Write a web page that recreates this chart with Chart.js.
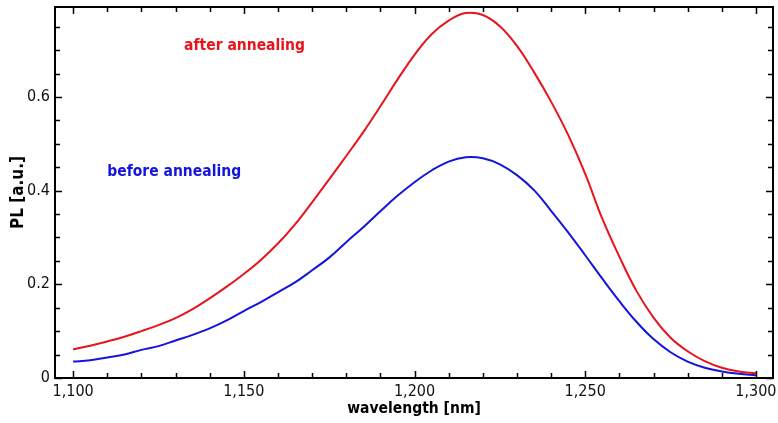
<!DOCTYPE html>
<html>
<head>
<meta charset="utf-8">
<script src="https://cdn.jsdelivr.net/npm/chart.js@4.4.1/dist/chart.umd.min.js"></script>
<style>
  html, body { margin: 0; padding: 0; background: #fff; }
  #wrap { width: 778px; height: 423px; position: relative; }
</style>
</head>
<body>
<div id="wrap"><canvas id="plChart"></canvas></div>
<script>
// wavelength [nm]
const wavelengths = [1100, 1105, 1110, 1115, 1120, 1125, 1130, 1135, 1140, 1145,
  1150, 1155, 1160, 1165, 1170, 1175, 1180, 1185, 1190, 1195,
  1200, 1205, 1210, 1215, 1220, 1225, 1230, 1235, 1240, 1245,
  1250, 1255, 1260, 1265, 1270, 1275, 1280, 1285, 1290, 1295, 1300];

const afterAnnealing = [0.061, 0.069, 0.078, 0.088, 0.100, 0.113, 0.128, 0.147, 0.170, 0.195,
  0.222, 0.252, 0.287, 0.328, 0.375, 0.424, 0.474, 0.525, 0.580, 0.637,
  0.690, 0.734, 0.763, 0.779, 0.775, 0.751, 0.709, 0.653, 0.590, 0.519,
  0.436, 0.340, 0.259, 0.186, 0.129, 0.086, 0.057, 0.036, 0.022, 0.014, 0.010];

const beforeAnnealing = [0.035, 0.038, 0.044, 0.050, 0.060, 0.068, 0.080, 0.092, 0.106, 0.123,
  0.143, 0.162, 0.183, 0.204, 0.230, 0.257, 0.290, 0.322, 0.356, 0.389,
  0.418, 0.443, 0.462, 0.471, 0.469, 0.456, 0.433, 0.401, 0.357, 0.311,
  0.262, 0.212, 0.164, 0.120, 0.083, 0.055, 0.035, 0.022, 0.014, 0.009, 0.006];

const xMajorTicks = [1100, 1150, 1200, 1250, 1300];
const xMinorTicks = [1110, 1120, 1130, 1140, 1160, 1170, 1180, 1190, 1210, 1220,
  1230, 1240, 1260, 1270, 1280, 1290];
const yMajorTicks = [0, 0.2, 0.4, 0.6];
const yMinorTicks = [0.05, 0.1, 0.15, 0.25, 0.3, 0.35, 0.45, 0.5, 0.55, 0.65, 0.7, 0.75];

const labelFont = '"DejaVu Sans Condensed", "DejaVu Sans", sans-serif';

const toPoints = (ys) => wavelengths.map((x, i) => ({ x: x, y: ys[i] }));

// frame and inward tick marks on all four sides
const framePlugin = {
  id: 'frame',
  afterDraw(chart) {
    const ctx = chart.ctx;
    const a = chart.chartArea;
    const xs = chart.scales.x;
    const ys = chart.scales.y;
    ctx.save();
    ctx.strokeStyle = '#000';
    ctx.lineWidth = 2;
    ctx.strokeRect(a.left, a.top, a.right - a.left, a.bottom - a.top);
    ctx.lineWidth = 1.5;
    const xTick = (v, len) => {
      const px = Math.round(xs.getPixelForValue(v)) + 0.5;
      ctx.beginPath();
      ctx.moveTo(px, a.bottom); ctx.lineTo(px, a.bottom - len);
      ctx.moveTo(px, a.top); ctx.lineTo(px, a.top + len);
      ctx.stroke();
    };
    const yTick = (v, len) => {
      const py = Math.round(ys.getPixelForValue(v)) + 0.5;
      ctx.beginPath();
      ctx.moveTo(a.left, py); ctx.lineTo(a.left + len, py);
      ctx.moveTo(a.right, py); ctx.lineTo(a.right - len, py);
      ctx.stroke();
    };
    xMajorTicks.forEach(v => xTick(v, 7));
    xMinorTicks.forEach(v => xTick(v, 5));
    yMajorTicks.forEach(v => yTick(v, 7));
    yMinorTicks.forEach(v => yTick(v, 5));
    ctx.restore();
  }
};

// series names written inside the plot
const seriesLabels = [
  { text: 'after annealing', x: 1132.5, y: 0.708, color: '#e8141c' },
  { text: 'before annealing', x: 1110, y: 0.440, color: '#1414dc' }
];

const labelPlugin = {
  id: 'seriesLabels',
  afterDatasetsDraw(chart) {
    const ctx = chart.ctx;
    ctx.save();
    ctx.font = 'bold 15.5px ' + labelFont;
    ctx.textAlign = 'left';
    ctx.textBaseline = 'middle';
    seriesLabels.forEach(l => {
      ctx.fillStyle = l.color;
      ctx.fillText(l.text, chart.scales.x.getPixelForValue(l.x), chart.scales.y.getPixelForValue(l.y));
    });
    ctx.restore();
  }
};

const ctx = document.getElementById('plChart').getContext('2d');
const chart = new Chart(ctx, {
  type: 'line',
  data: {
    datasets: [
      {
        label: 'after annealing',
        data: toPoints(afterAnnealing),
        borderColor: '#e8141c',
        borderWidth: 2,
        pointRadius: 0,
        tension: 0.4,
        fill: false
      },
      {
        label: 'before annealing',
        data: toPoints(beforeAnnealing),
        borderColor: '#1414dc',
        borderWidth: 2,
        pointRadius: 0,
        tension: 0.4,
        fill: false
      }
    ]
  },
  options: {
    responsive: true,
    maintainAspectRatio: false,
    animation: false,
    layout: { padding: { top: 7, right: 5, left: 0, bottom: 5 } },
    plugins: {
      legend: { display: false },
      tooltip: { enabled: false }
    },
    scales: {
      x: {
        type: 'linear',
        min: 1094.7,
        max: 1305,
        grid: { display: false, drawTicks: false },
        border: { display: false },
        afterBuildTicks: (scale) => { scale.ticks = xMajorTicks.map(v => ({ value: v })); },
        afterFit: (scale) => { scale.height = 40; scale.paddingLeft = 0; scale.paddingRight = 0; },
        ticks: {
          color: '#111',
          padding: 4,
          maxRotation: 0,
          font: { family: labelFont, size: 16 },
          callback: (v) => v.toLocaleString('en-US')
        },
        title: {
          display: true,
          text: 'wavelength [nm]',
          color: '#000',
          padding: { top: 0, bottom: 0 },
          font: { family: labelFont, size: 15.5, weight: 'bold' }
        }
      },
      y: {
        min: 0,
        max: 0.792,
        grid: { display: false, drawTicks: false },
        border: { display: false },
        afterBuildTicks: (scale) => { scale.ticks = yMajorTicks.map(v => ({ value: v })); },
        afterFit: (scale) => { scale.width = 55; scale.paddingTop = 0; scale.paddingBottom = 0; },
        ticks: {
          color: '#111',
          padding: 5,
          font: { family: labelFont, size: 16 },
          callback: (v) => String(v)
        },
        title: {
          display: true,
          text: 'PL [a.u.]',
          color: '#000',
          padding: { top: 8, bottom: 0 },
          font: { family: labelFont, size: 17, weight: 'bold' }
        }
      }
    }
  },
  plugins: [framePlugin, labelPlugin]
});
</script>
</body>
</html>
